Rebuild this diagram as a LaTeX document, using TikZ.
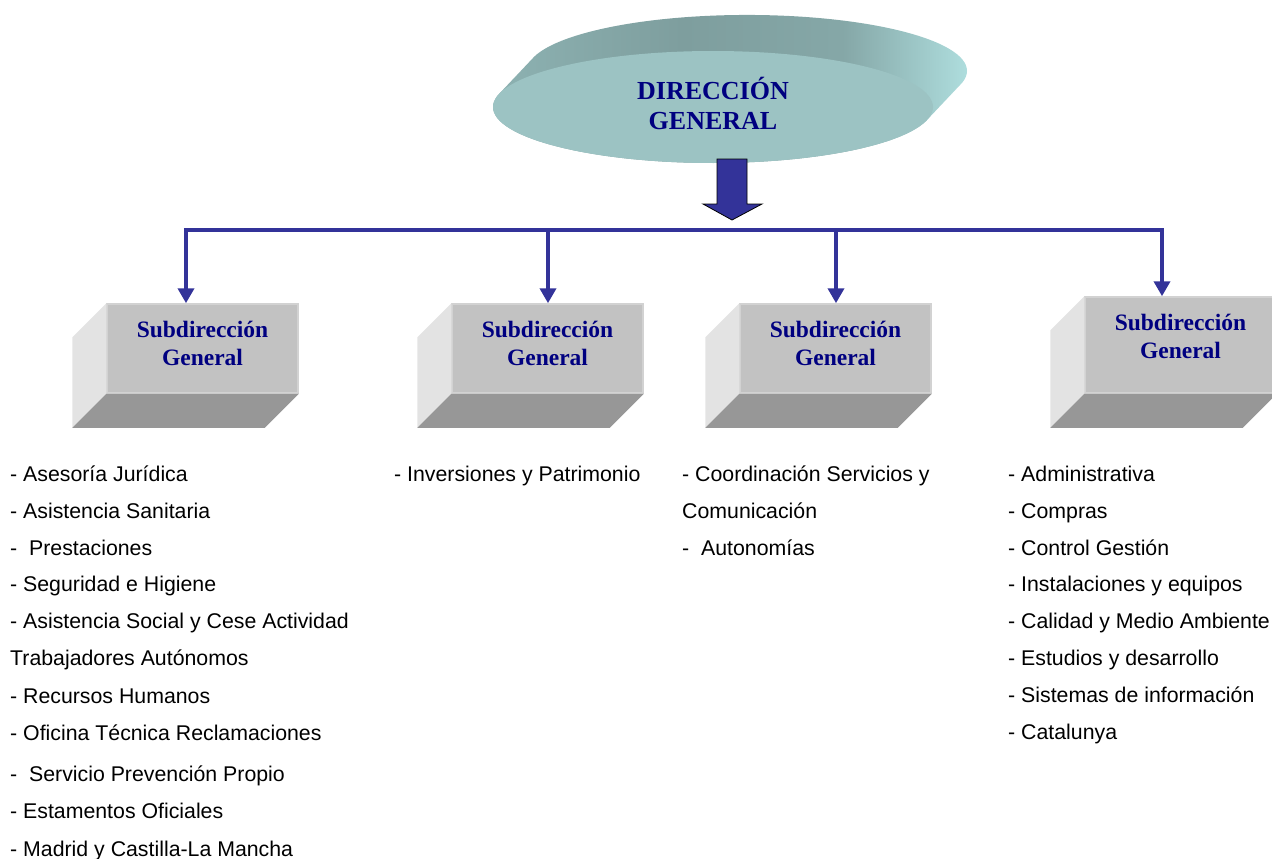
\documentclass[tikz,border=0pt]{standalone}
\usepackage{fontspec}
\setmainfont{Liberation Serif}
\setsansfont{Liberation Sans}
\usetikzlibrary{positioning,calc,arrows.meta,shapes.geometric}

\definecolor{dgnavy}{HTML}{000080}
\definecolor{linkblue}{HTML}{333399}
\definecolor{ovalface}{HTML}{9CC3C3}
\definecolor{ovalsideL}{HTML}{8DB2B2}
\definecolor{ovalsideM}{HTML}{7E9E9E}
\definecolor{ovalsideR}{HTML}{AEDDDD}
\definecolor{boxfront}{HTML}{C2C2C2}
\definecolor{boxedge}{HTML}{D2D2D2}
\definecolor{boxleft}{HTML}{E3E3E3}
\definecolor{boxbottom}{HTML}{979797}

\pgfdeclarehorizontalshading{ovalside}{100bp}{color(0bp)=(ovalsideL); color(25bp)=(ovalsideL);
  color(45bp)=(ovalsideM); color(62bp)=(ovalsideM!85!ovalsideR); color(75bp)=(ovalsideR); color(100bp)=(ovalsideR)}

\tikzset{
  subface/.style={rectangle, fill=boxfront, draw=boxedge, line width=1.5, minimum width=191, minimum height=89, inner sep=0},
  subtitle/.style={font=\bfseries\fontsize{23.5}{28}\selectfont, text=dgnavy, align=center, inner sep=0, anchor=north},
  item/.style={font=\sffamily\fontsize{21.3}{25}\selectfont, anchor=west, inner sep=0, text height=15pt, text depth=0pt},
  link/.style={linkblue, line width=4.5, -{Triangle[width=16pt,length=15pt]}},
}

\begin{document}
\begin{tikzpicture}[x=1pt,y=1pt,yscale=-1]
\useasboundingbox (0,0) rectangle (1272,859);

% Oval
\coordinate (dgc) at (713,107);
\shade[shading=ovalside]
  \foreach \k in {0,2,...,34} { ($(dgc)+(\k,-1.06*\k)$) ellipse [x radius=220, y radius=56] };
\node (dg) [ellipse, fill=ovalface, minimum width=440, minimum height=112, inner sep=0,
  font=\bfseries\fontsize{26}{30}\selectfont, text=dgnavy, align=center] at (dgc) {};
\node (dgt) [font=\bfseries\fontsize{26}{30}\selectfont, text=dgnavy, align=center, inner sep=0]
  at ([yshift=-4]dg.center) {DIRECCIÓN\\GENERAL};

% Block arrow
\coordinate (blk) at (732,220);
\draw[fill=linkblue, line width=0.8] (blk) -- ++(30,-16) -- ++(-15,0) -- ++(0,-45) -- ++(-30,0)
  -- ++(0,45) -- ++(-14,0) -- cycle;

% Boxes
\node (f1) [subface] at (202.5,348.5) {};
\fill[boxleft] (f1.north west) -- ++(-34,34) -- ($(f1.south west)+(-34,34)$) -- (f1.south west) -- cycle;
\fill[boxbottom] (f1.south west) -- (f1.south east) -- ++(-34,34) -- ($(f1.south west)+(-34,34)$) -- cycle;
\node (t1) [subtitle] at ($(f1.north)+(0,18)$) {Subdirección\\General};

\node (f2) [subface] at (547.5,348.5) {};
\fill[boxleft] (f2.north west) -- ++(-34,34) -- ($(f2.south west)+(-34,34)$) -- (f2.south west) -- cycle;
\fill[boxbottom] (f2.south west) -- (f2.south east) -- ++(-34,34) -- ($(f2.south west)+(-34,34)$) -- cycle;
\node (t2) [subtitle] at ($(f2.north)+(0,18)$) {Subdirección\\General};

\node (f3) [subface] at (835.5,348.5) {};
\fill[boxleft] (f3.north west) -- ++(-34,34) -- ($(f3.south west)+(-34,34)$) -- (f3.south west) -- cycle;
\fill[boxbottom] (f3.south west) -- (f3.south east) -- ++(-34,34) -- ($(f3.south west)+(-34,34)$) -- cycle;
\node (t3) [subtitle] at ($(f3.north)+(0,18)$) {Subdirección\\General};

\node (f4) [subface, minimum height=96] at (1180.5,345) {};
\fill[boxleft] (f4.north west) -- ++(-34,34) -- ($(f4.south west)+(-34,34)$) -- (f4.south west) -- cycle;
\fill[boxbottom] (f4.south west) -- (f4.south east) -- ++(-34,34) -- ($(f4.south west)+(-34,34)$) -- cycle;
\node (t4) [subtitle] at ($(f4.north)+(0,18)$) {Subdirección\\General};

% Bus and links
\coordinate (b1) at (186,230);
\coordinate (b2) at (548,230);
\coordinate (b3) at (836,230);
\coordinate (b4) at (1162,230);
\draw[linkblue, line width=4.5] ([xshift=-2.25]b1) -- ([xshift=2.25]b4);
\draw[link] (b1) -- (b1 |- f1.north);
\draw[link] (b2) -- (b2 |- f2.north);
\draw[link] (b3) -- (b3 |- f3.north);
\draw[link] (b4) -- (b4 |- f4.north);

% Text Node
\node (a1) [item] at (10,474) {- Asesoría Jurídica};
\node (a2) [item] at (10,510.5) {- Asistencia Sanitaria};
\node (a3) [item] at (10,547.5) {-\ \ Prestaciones};
\node (a4) [item] at (10,584) {- Seguridad e Higiene};
\node (a5) [item] at (10,621) {- Asistencia Social y Cese Actividad};
\node (a6) [item] at (10,657.5) {Trabajadores Autónomos};
\node (a7) [item] at (10,695.5) {- Recursos Humanos};
\node (a8) [item] at (10,732.5) {- Oficina Técnica Reclamaciones};
\node (a9) [item] at (10,774) {-\ \ Servicio Prevención Propio};
\node (a10) [item] at (10,811) {- Estamentos Oficiales};
\node (a11) [item] at (10,849) {- Madrid y Castilla-La Mancha};
% Text Node
\node (b1t) [item] at (394,474) {- Inversiones y Patrimonio};
% Text Node
\node (c1) [item] at (682,474) {- Coordinación Servicios y};
\node (c2) [item] at (682,510.5) {Comunicación};
\node (c3) [item] at (682,547.5) {-\ \ Autonomías};
% Text Node
\node (d1) [item] at (1008,474) {- Administrativa};
\node (d2) [item] at (1008,510.5) {- Compras};
\node (d3) [item] at (1008,547.5) {- Control Gestión};
\node (d4) [item] at (1008,584) {- Instalaciones y equipos};
\node (d5) [item] at (1008,621) {- Calidad y Medio Ambiente};
\node (d6) [item] at (1008,657.5) {- Estudios y desarrollo};
\node (d7) [item] at (1008,695) {- Sistemas de información};
\node (d8) [item] at (1008,732) {- Catalunya};

\end{tikzpicture}
\end{document}
